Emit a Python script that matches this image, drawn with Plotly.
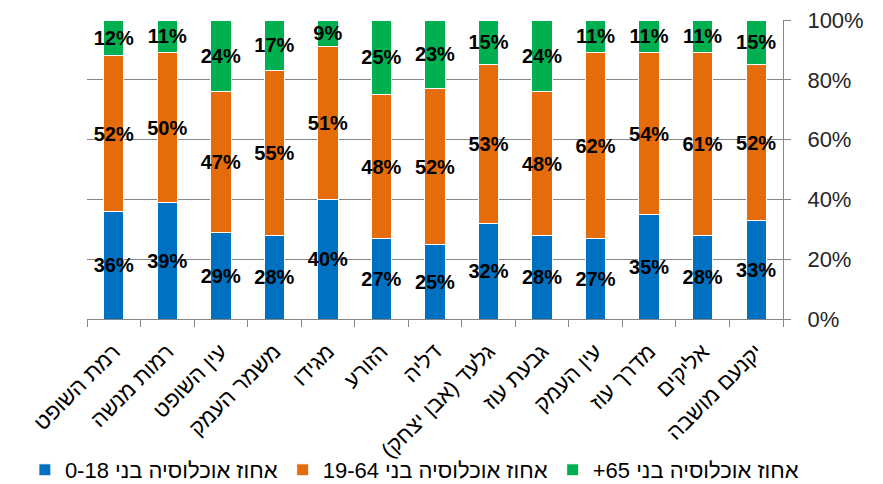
import plotly.graph_objects as go

RLM = "\u200f"
categories = ["רמת השופט", "רמות מנשה", "עין השופט", "משמר העמק", "מגידו", "הזורע", "דליה",
              "גלעד (אבן יצחק)", "גבעת עוז", "עין העמק", "מדרך עוז", "אליקים", "יקנעם מושבה"]
age_0_18 = [36, 39, 29, 28, 40, 27, 25, 32, 28, 27, 35, 28, 33]
age_19_64 = [52, 50, 47, 55, 51, 48, 52, 53, 48, 62, 54, 61, 52]
age_65_plus = [12, 11, 24, 17, 9, 25, 23, 15, 24, 11, 11, 11, 15]
series_names = ["אחוז אוכלוסיה בני 0-18", "אחוז אוכלוסיה בני 19-64", "אחוז אוכלוסיה בני 65+"]
colors = ["#0070C0", "#E46C0A", "#00B050"]
y_ticks = [0, 20, 40, 60, 80, 100]
y_tick_labels = [f"{v}%" for v in y_ticks]

cat_labels = [c + RLM for c in categories]

fig = go.Figure()
for vals, name, col in zip([age_0_18, age_19_64, age_65_plus], series_names, colors):
    fig.add_trace(go.Bar(
        x=cat_labels, y=vals, name=name + RLM,
        marker=dict(color=col, line=dict(color="white", width=1)),
        text=[f"{v}%" for v in vals],
        textposition="inside", insidetextanchor="middle", textangle=0,
        constraintext="none",
        textfont=dict(family="Arial, Liberation Sans", size=20, color="black", weight="bold"),
        hoverinfo="skip",
    ))

fig.update_layout(
    barmode="stack",
    bargap=0.62,
    width=875, height=476,
    margin=dict(l=79, r=100, t=12, b=165, autoexpand=False),
    paper_bgcolor="white", plot_bgcolor="white",
    font=dict(family="Arial, Liberation Sans", color="black"),
    showlegend=True,
    legend=dict(orientation="h", x=1.03, xanchor="right", y=-0.505, yanchor="middle",
                font=dict(size=22, color="black"), traceorder="normal",
                bgcolor="rgba(0,0,0,0)",
                itemwidth=30, tracegroupgap=0),
    xaxis=dict(showline=True, linecolor="#868686", linewidth=1, ticks="outside",
               tickson="boundaries", ticklen=7, tickcolor="#868686", tickangle=-45,
               ticklabelstandoff=10, ticklabeloverflow="allow",
               tickfont=dict(size=22, color="black"), showgrid=False, automargin=False),
    yaxis=dict(range=[0, 100], tickmode="array", tickvals=y_ticks, ticktext=y_tick_labels,
               side="right",
               showline=True, linecolor="#868686", linewidth=1,
               gridcolor="#868686", gridwidth=1, ticks="outside", ticklen=7,
               tickcolor="#868686", zeroline=False, automargin=False,
               ticklabelstandoff=12, ticklabeloverflow="allow",
               tickfont=dict(size=22, color="#262626")),
)

fig.write_html("out.html")
